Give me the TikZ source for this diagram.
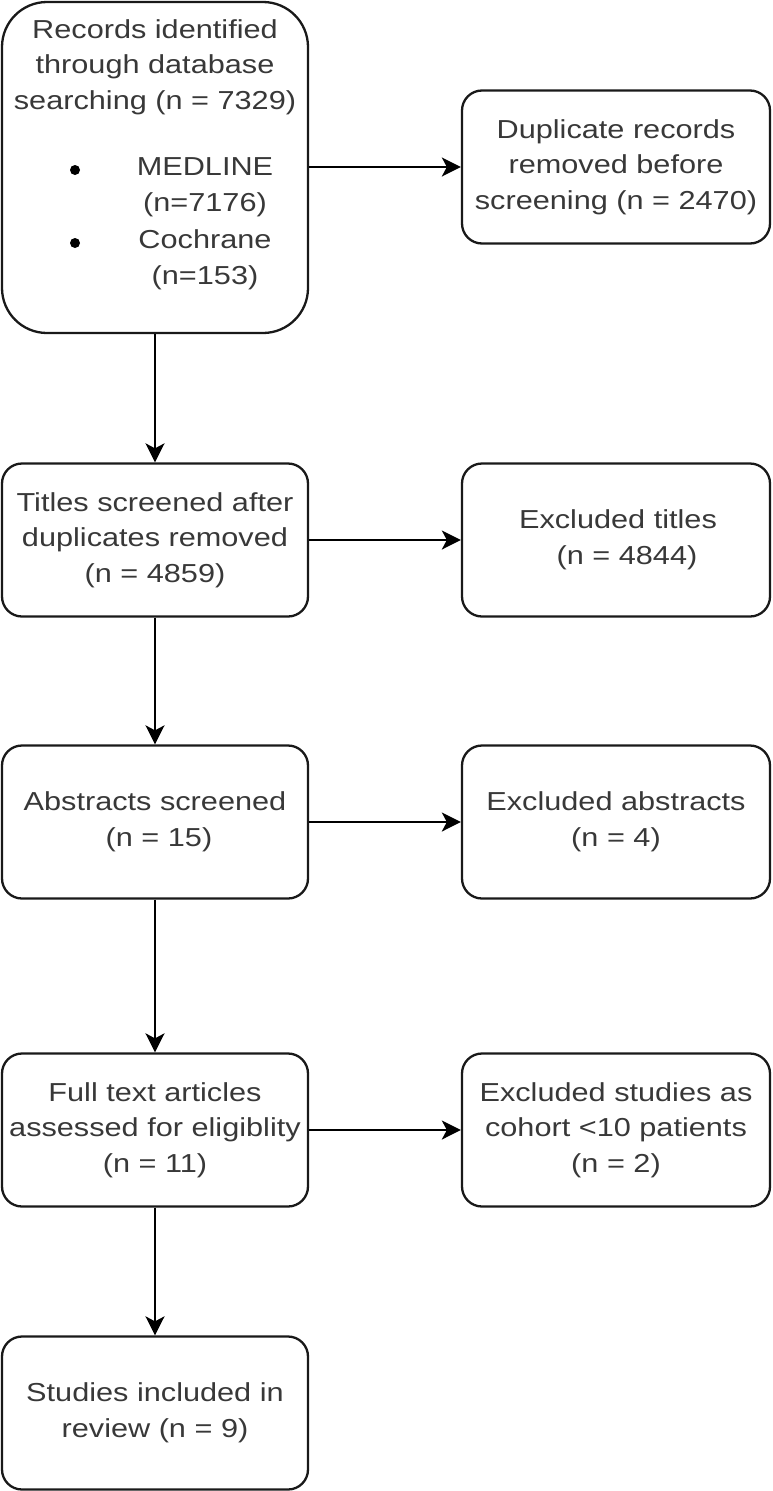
\documentclass[tikz,border=0pt]{standalone}
\usepackage{fontspec}
\setmainfont{Liberation Sans}[FakeStretch=1.18]
\usetikzlibrary{arrows.meta}
\tikzset{
  box/.style={draw=black!90, line width=2.3pt, rounded corners=20pt, minimum width=306pt, minimum height=153pt, align=center, inner sep=0pt, text=black!78},
  txt/.style={align=center, inner sep=0pt, text=black!78},
  arr/.style={draw=black, line width=2.3pt, -{Stealth[length=19pt,width=19pt,inset=5pt]}},
  bul/.style={circle, fill=black, inner sep=0pt, minimum size=10pt}
}
\begin{document}
\begin{tikzpicture}[x=1pt,y=-1pt,font=\fontsize{26}{35.5}\selectfont]
\useasboundingbox (0,0) rectangle (772,1491);
% box 1
\node[box, rounded corners=45pt, minimum height=331pt] (rec) at (155,167.5) {};
\node[txt] (rect) at (155,67) {Records identified\\through database\\searching (n = 7329)};
\node[bul] (b1) at (75,170) {};
\node[bul] (b2) at (75,243) {};
\node[txt] (med) at (205,187) {MEDLINE\\(n=7176)};
\node[txt] (coc) at (205,260) {Cochrane\\(n=153)};
% right column
\node[box, minimum width=308pt] (dup) at (616,167) {Duplicate records\\removed before\\screening (n = 2470)};
\node[box] (tit) at (155,540) {Titles screened after\\duplicates removed\\(n = 4859)};
\node[box, minimum width=308pt] (ext) at (616,540) {\hspace*{4pt}Excluded titles\\\hspace*{22pt}(n = 4844)};
\node[box] (abs) at (155,822) {Abstracts screened\\\hspace*{8pt}(n = 15)};
\node[box, minimum width=308pt] (exa) at (616,822) {Excluded abstracts\\(n = 4)};
\node[box] (ful) at (155,1130) {Full text articles\\assessed for eligiblity\\(n = 11)};
\node[box, minimum width=308pt] (exs) at (616,1130) {Excluded studies as\\cohort <10 patients\\(n = 2)};
\node[box] (inc) at (155,1413) {Studies included in\\review (n = 9)};
% connectors
\draw[arr] (rec.east |- dup.west) -- (dup.west);
\draw[arr] (rec) -- (tit);
\draw[arr] (tit) -- (ext);
\draw[arr] (tit) -- (abs);
\draw[arr] (abs) -- (exa);
\draw[arr] (abs) -- (ful);
\draw[arr] (ful) -- (exs);
\draw[arr] (ful) -- (inc);
\end{tikzpicture}
\end{document}
